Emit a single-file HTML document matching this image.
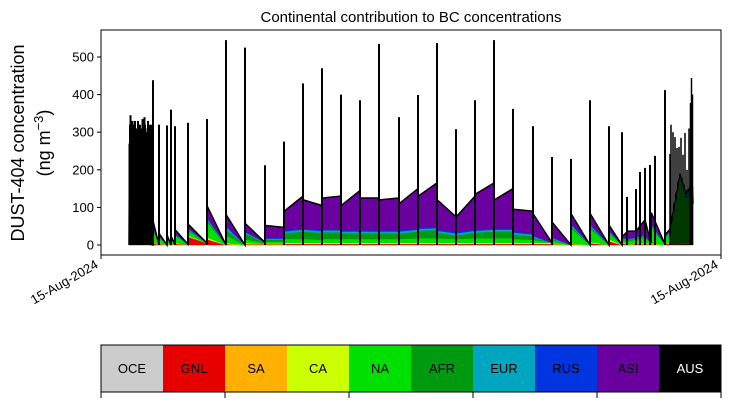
<!DOCTYPE html>
<html><head><meta charset="utf-8"><style>
body{margin:0;background:#fff;font-family:"Liberation Sans",sans-serif}
svg text{font-family:"Liberation Sans","DejaVu Sans",sans-serif}
</style></head><body>
<svg id="c" width="730" height="402" xmlns="http://www.w3.org/2000/svg"></svg>
<script>
const times=[28,28.5,39,49,52,52.3,58,58.3,66,66.3,70,70.3,74,74.3,87,87.3,106,106.3,125,125.3,144,144.3,164,164.3,183,183.3,202,202.3,221,221.3,240,240.3,259,259.3,278,278.3,298,298.3,317,317.3,336,336.3,355,355.3,374,374.3,393,393.3,412,412.3,432,432.3,451,451.3,470,470.3,489,489.3,508,508.3,521,521.3,527,535,544,550,550.3,564,564.3,569,579,585,589,591.5,592];
const GNL=[0,10,3,0,0,5,0,3,0,2,0,2,1,3,1,22,5,15,0,2,0,2,2,2,2,3,3,3,3,3,3,3,3,3,3,3,3,3,3,3,3,3,3,3,3,3,3,3,3,3,3,3,3,2,0,2,0,5,0,10,0,5,0,3,2,2,2,0,5,2,3,3,5,5,100,100,0];
const CA=[0,5,2,0,0,2,0,2,0,2,0,2,0,2,0,3,0,5,0,3,0,3,1,2,2,3,3,3,3,3,3,3,3,3,3,3,3,3,3,3,3,3,3,3,3,3,3,3,3,3,3,3,3,2,0,2,0,3,0,5,0,3,0,2,2,2,2,0,3,0,2,2,3,3,10,10,0];
const NA=[0,240,60,2,0,35,0,15,0,12,0,10,0,20,1,12,0,40,0,20,0,10,2,5,5,10,10,10,8,10,10,10,10,10,10,10,10,10,12,12,12,12,10,10,12,12,12,12,12,10,8,8,0,8,0,40,0,35,0,15,0,6,10,10,15,0,40,2,10,30,170,120,120,120,0];
const AFR=[0,0,0,0,0,0,0,0,0,0,0,0,0,0,0,3,0,5,0,15,0,15,1,5,5,15,20,20,18,18,18,15,15,15,15,15,15,15,18,20,22,15,10,10,15,15,18,18,18,12,10,5,0,3,0,5,0,5,0,3,0,2,3,3,3,0,5,0,2,3,5,5,5,5,0];
const EUR=[0,5,2,0,0,2,0,2,0,2,0,2,0,3,0,3,0,5,0,8,0,4,1,3,3,5,5,5,5,5,5,5,5,5,5,5,5,5,5,5,5,5,5,5,5,5,5,5,5,5,4,4,0,4,0,5,0,5,0,3,0,2,2,2,3,0,5,0,2,2,3,3,10,10,0];
const RUS=[0,3,1,0,0,2,0,1,0,1,0,1,0,2,0,2,0,3,0,4,0,3,0,2,2,3,3,3,3,3,3,3,3,3,3,3,3,3,3,3,3,3,3,3,3,3,3,3,3,3,3,3,0,2,0,3,0,3,0,2,0,1,2,2,2,0,3,0,1,2,3,3,5,5,0];
const ASI=[0,5,2,0,0,15,0,7,0,6,0,5,0,10,0,10,0,30,0,28,0,20,0,33,28,51,86,76,65,83,88,66,106,86,86,81,86,71,106,84,117,79,41,41,89,94,121,76,106,59,59,56,0,39,0,25,0,27,0,14,0,4,20,15,40,0,29,0,5,3,3,3,5,5,0];
const spikeTimes=[28.5,29,29.5,30,30.5,31,31.5,32,32.5,33,33.5,34,34.5,35,35.5,36,36.5,37,37.5,38,38.5,39,39.5,40,40.5,41,41.5,42,42.5,43,43.5,44,44.5,45,45.5,46,46.5,47,47.5,48,48.5,49,49.5,50,52,58,66,70,74,87,106,125,144,164,183,202,221,240,259,278,298,317,336,355,374,393,412,432,451,470,489,508,521,526,535,539,544,549,554,564,569,570,572,574,576,578,580,582,584,586,588,589.5,590.5,591.5];
const spikeVals=[270,320,345,300,280,310,330,290,320,260,300,330,250,310,290,200,280,330,270,250,300,320,280,210,290,310,335,250,300,280,340,320,260,300,270,290,310,330,300,280,320,300,250,320,438,320,318,360,316,325,335,545,525,212,275,430,470,400,385,535,340,399,537,308,385,545,362,316,234,229,385,316,300,128,149,194,205,213,237,412,242,320,300,287,258,261,285,240,298,200,310,378,444,400,330];
const cats=["OCE","GNL","SA","CA","NA","AFR","EUR","RUS","ASI","AUS"];
const catColors=["#cccccc","#e60000","#ffb000","#ccff00","#00e000","#009a10","#00a6c0","#0035e0","#6a00a0","#000000"];
const yTicks=[0,100,200,300,400,500];
const xTickLabels=["15-Aug-2024","15-Aug-2024"];

const NS="http://www.w3.org/2000/svg",svg=document.getElementById('c');
function el(t,a,p){const e=document.createElementNS(NS,t);for(const k in a)e.setAttribute(k,a[k]);(p||svg).appendChild(e);return e;}
const X0=101,X1=721,Y0=30,Y1=255;
const xs=t=>X0+t;
const ys=v=>245-v*0.376;
el('rect',{x:X0,y:Y0,width:X1-X0,height:Y1-Y0,fill:'#fff'});
const g=el('g',{});


const series=[GNL,CA,NA,AFR,EUR,RUS,ASI];
const sCols=["#e60000","#ccff00","#00e000","#009a10","#00a6c0","#0035e0","#6a00a0"];
const sNames=["GNL","CA","NA","AFR","EUR","RUS","ASI"];
let base=times.map(()=>0);
series.forEach((s,i)=>{
  const top=base.map((b,j)=>b+s[j]);
  let pts=times.map((t,j)=>xs(t)+','+ys(top[j]));
  for(let j=times.length-1;j>=0;j--)pts.push(xs(times[j])+','+ys(base[j]));
  const p=el('polygon',{points:pts.join(' '),fill:sCols[i],stroke:sCols[i],'stroke-width':0.5},g);
  
  
  base=top;
});
const outline=el('polyline',{points:times.map((t,j)=>xs(t)+','+ys(base[j])).join(' '),fill:'none',stroke:'#000','stroke-width':1.5});


spikeTimes.forEach((t,i)=>{
  const l=el('line',{x1:xs(t),x2:xs(t),y1:ys(0),y2:ys(spikeVals[i]),stroke:'#000','stroke-width':t>565?1.5:2});
  
  
});
const frame=el('rect',{x:X0,y:Y0,width:X1-X0,height:Y1-Y0,fill:'none',stroke:'#000','stroke-width':1});


yTicks.forEach(v=>{
  el('line',{x1:X0-4,x2:X0,y1:ys(v),y2:ys(v),stroke:'#000'});
  const t=el('text',{x:X0-7,y:ys(v)+4.5,'text-anchor':'end','font-size':13});t.textContent=v;
  
  
});
[X0,X1].forEach((x,i)=>{
  el('line',{x1:x,x2:x,y1:Y1,y2:Y1+4,stroke:'#000'});
  const t=el('text',{x:x-2,y:Y1+12,'text-anchor':'end','font-size':13,transform:`rotate(-30 ${x-2} ${Y1+12})`});
  t.textContent=xTickLabels[i];
  
  
});
const title=el('text',{x:411,y:22,'text-anchor':'middle','font-size':15});title.textContent='Continental contribution to BC concentrations';


const yl=el('text',{x:24,y:143,'text-anchor':'middle','font-size':18,transform:'rotate(-90 24 143)'});yl.textContent='DUST-404 concentration';


const yl2=el('text',{x:50,y:143,'text-anchor':'middle','font-size':18,transform:'rotate(-90 50 143)'});
yl2.innerHTML='(ng m<tspan dy="-7" font-size="13">−3</tspan><tspan dy="7">)</tspan>';


const cw=(X1-X0)/cats.length;
cats.forEach((c,i)=>{
  const r=el('rect',{x:X0+i*cw,y:345,width:cw,height:47,fill:catColors[i]});
  
  
  const t=el('text',{x:X0+i*cw+cw/2,y:373,'text-anchor':'middle','font-size':13,fill:c==='AUS'?'#fff':'#000'});t.textContent=c;
  
  
});
el('rect',{x:X0,y:345,width:X1-X0,height:47,fill:'none',stroke:'#000','stroke-width':1});
for(let i=0;i<=5;i++)el('line',{x1:X0+i*124,x2:X0+i*124,y1:392,y2:398,stroke:'#000'});
</script>
</body></html>
